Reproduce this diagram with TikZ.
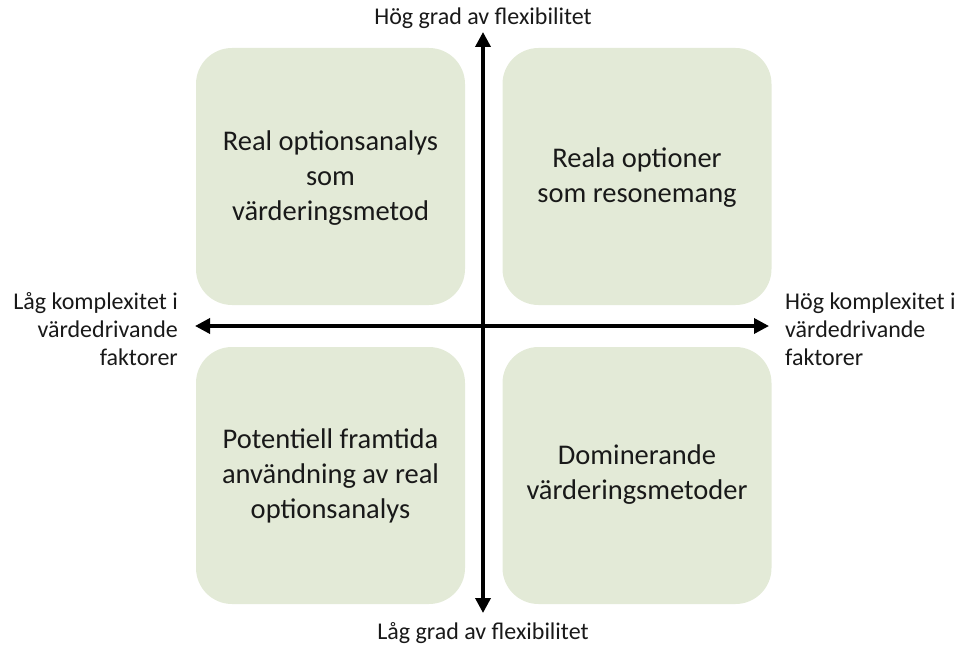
\documentclass[tikz,border=0pt]{standalone}
\usepackage{fontspec}
\setmainfont{Carlito}
\usetikzlibrary{arrows.meta}
\definecolor{boxgreen}{HTML}{E3EAD7}
\tikzset{
  quad/.style={fill=boxgreen, draw=none, rounded corners=36pt, minimum width=269pt, minimum height=257pt, inner sep=0pt},
  quadtext/.style={align=center, font=\fontsize{28.5}{35}\selectfont, text=black!90},
  axislabel/.style={font=\fontsize{24}{28}\selectfont, text=black!90, inner sep=0pt},
  axis/.style={line width=3.5pt, -{Triangle[length=15pt,width=15pt]}, shorten >=0pt},
}
\begin{document}
\begin{tikzpicture}[x=1pt,y=-1pt]
\useasboundingbox (0,0) rectangle (964,647);
\node[quad] (tl) at (330.5,176.5) {};
\node[quad] (tr) at (637,176.5) {};
\node[quad] (bl) at (330.5,475.5) {};
\node[quad] (br) at (637,475.5) {};
\node[quadtext] (tlt) at (330.5,178) {Real optionsanalys\\som\\värderingsmetod};
\node[quadtext] (trt) at (637,178) {Reala optioner\\som resonemang};
\node[quadtext] (blt) at (330.5,476) {Potentiell framtida\\användning av real\\optionsanalys};
\node[quadtext] (brt) at (637,475) {Dominerande\\värderingsmetoder};
\coordinate (c) at (483,326);
\coordinate (top) at (483,32);
\coordinate (bot) at (483,613);
\coordinate (left) at (195,326);
\coordinate (right) at (769,326);
\draw[axis] (c) -- (top);
\draw[axis] (c) -- (bot);
\draw[axis] (c) -- (left);
\draw[axis] (c) -- (right);
\node[axislabel] (toplab) at (483,18) {Hög grad av flexibilitet};
\node[axislabel] (botlab) at (483,633) {Låg grad av flexibilitet};
\node[axislabel, align=right, anchor=east] (leftlab) at (178,329) {Låg komplexitet i\\värdedrivande\\faktorer};
\node[axislabel, align=left, anchor=west] (rightlab) at (785,329) {Hög komplexitet i\\värdedrivande\\faktorer};
\end{tikzpicture}
\end{document}
